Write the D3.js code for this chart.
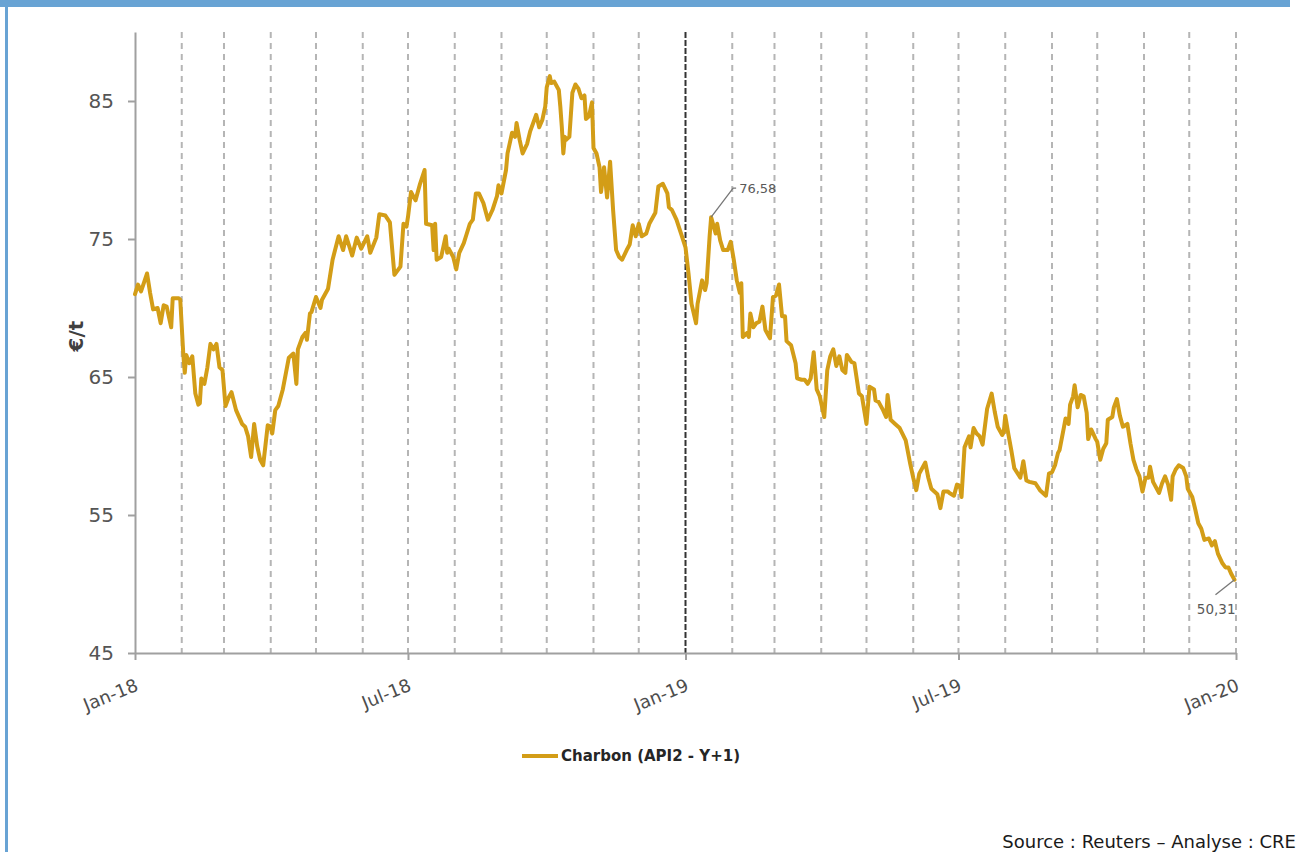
<!DOCTYPE html>
<html><head><meta charset="utf-8">
<script src="https://cdn.jsdelivr.net/npm/d3@7"></script>
<style>body{margin:0;background:#fff}svg{display:block}</style>
</head><body><svg id="c" width="1302" height="852"></svg>
<script>
// ---- DATA ----
const dates2018 = ["2018-01-01","2018-01-03","2018-01-05","2018-01-09","2018-01-11","2018-01-13","2018-01-16","2018-01-18","2018-01-20","2018-01-22","2018-01-25","2018-01-26","2018-01-30","2018-01-31",
"2018-02-02","2018-02-03","2018-02-04","2018-02-06","2018-02-08","2018-02-10","2018-02-12","2018-02-13","2018-02-14","2018-02-16","2018-02-18","2018-02-20","2018-02-22","2018-02-24","2018-02-26","2018-02-28",
"2018-03-02","2018-03-04","2018-03-06","2018-03-09","2018-03-13","2018-03-15","2018-03-17","2018-03-19","2018-03-21","2018-03-23","2018-03-25","2018-03-27","2018-03-30",
"2018-04-01","2018-04-02","2018-04-04","2018-04-06","2018-04-09","2018-04-13","2018-04-16","2018-04-18","2018-04-19","2018-04-22","2018-04-24","2018-04-25","2018-04-27","2018-04-28",
"2018-05-01","2018-05-04","2018-05-05","2018-05-09","2018-05-12","2018-05-16","2018-05-19","2018-05-21","2018-05-25","2018-05-28","2018-05-31",
"2018-06-04","2018-06-06","2018-06-10","2018-06-12","2018-06-16","2018-06-19","2018-06-22","2018-06-26","2018-06-28","2018-06-30",
"2018-07-01","2018-07-03","2018-07-06","2018-07-09","2018-07-12","2018-07-13","2018-07-17","2018-07-18","2018-07-19","2018-07-20","2018-07-23","2018-07-26","2018-07-27","2018-07-28","2018-07-31",
"2018-08-02","2018-08-04","2018-08-07","2018-08-09","2018-08-11","2018-08-13","2018-08-15","2018-08-17","2018-08-20","2018-08-23","2018-08-26","2018-08-29","2018-08-30",
"2018-09-01","2018-09-04","2018-09-05","2018-09-08","2018-09-10","2018-09-11","2018-09-13","2018-09-15","2018-09-18","2018-09-20","2018-09-24","2018-09-26","2018-09-28","2018-09-30",
"2018-10-01","2018-10-03","2018-10-04","2018-10-06","2018-10-09","2018-10-10","2018-10-11","2018-10-12","2018-10-13","2018-10-14","2018-10-16","2018-10-18","2018-10-20","2018-10-22","2018-10-24","2018-10-26","2018-10-27","2018-10-29","2018-10-31",
"2018-11-01","2018-11-03","2018-11-05","2018-11-06","2018-11-08","2018-11-10","2018-11-12","2018-11-14","2018-11-16","2018-11-18","2018-11-20","2018-11-23","2018-11-25","2018-11-27","2018-11-29",
"2018-12-01","2018-12-03","2018-12-06","2018-12-08","2018-12-12","2018-12-14","2018-12-17","2018-12-20","2018-12-21","2018-12-23","2018-12-26","2018-12-29"];
const values2018 = [71.0,71.7,71.2,72.5,71.1,69.9,70.0,68.9,70.2,70.1,68.6,70.7,70.7,70.6,
66.7,65.3,66.6,66.0,66.5,63.8,63.0,63.1,64.9,64.5,65.7,67.4,67.0,67.4,65.7,65.5,
62.9,63.5,63.9,62.6,61.6,61.4,60.7,59.2,61.6,60.0,59.0,58.6,61.5,
61.4,60.9,62.6,62.9,64.1,66.4,66.7,64.5,67.0,67.9,68.2,67.7,69.6,69.7,
70.8,70.0,70.6,71.4,73.5,75.2,74.2,75.2,73.8,75.1,74.3,
75.2,74.0,75.1,76.8,76.7,76.2,72.4,73.0,76.1,75.9,
76.6,78.4,77.8,79.0,80.0,76.1,76.0,74.2,76.1,73.5,73.7,75.2,74.0,74.3,73.7,
72.8,74.0,74.7,75.4,76.1,76.4,78.3,78.3,77.6,76.4,77.1,78.1,78.9,
78.3,80.0,81.2,82.7,82.4,83.4,82.2,81.2,81.9,82.8,84.0,83.1,83.6,84.6,
86.0,86.8,86.3,86.4,85.8,84.6,83.1,81.2,82.4,82.2,82.4,85.6,86.2,85.9,85.2,85.4,83.7,83.9,84.9,
81.6,81.2,80.2,78.4,80.2,78.0,80.6,77.1,74.2,73.7,73.5,74.2,74.6,76.0,75.2,
76.1,75.2,75.4,76.1,76.9,78.8,79.0,78.3,77.3,77.1,76.4,75.4];
const dates2019 = ["2019-01-01","2019-01-03","2019-01-05","2019-01-08","2019-01-09","2019-01-12","2019-01-14","2019-01-15","2019-01-17","2019-01-18","2019-01-21","2019-01-22","2019-01-24","2019-01-26","2019-01-29","2019-01-31",
"2019-02-02","2019-02-04","2019-02-06","2019-02-07","2019-02-08","2019-02-11","2019-02-12","2019-02-13","2019-02-15","2019-02-17","2019-02-19","2019-02-21","2019-02-23","2019-02-26","2019-02-28",
"2019-03-02","2019-03-04","2019-03-06","2019-03-08","2019-03-09","2019-03-12","2019-03-15","2019-03-16","2019-03-19","2019-03-21","2019-03-23","2019-03-25","2019-03-27","2019-03-29","2019-03-31",
"2019-04-03","2019-04-05","2019-04-07","2019-04-09","2019-04-11","2019-04-13","2019-04-15","2019-04-17","2019-04-18","2019-04-21","2019-04-23","2019-04-26","2019-04-28",
"2019-05-01","2019-05-03","2019-05-06","2019-05-07","2019-05-09","2019-05-12","2019-05-14","2019-05-15","2019-05-17","2019-05-20","2019-05-23","2019-05-27","2019-05-30",
"2019-06-01","2019-06-03","2019-06-05","2019-06-09","2019-06-11","2019-06-13","2019-06-17","2019-06-19","2019-06-21","2019-06-24","2019-06-25","2019-06-28","2019-06-30",
"2019-07-02","2019-07-03","2019-07-05","2019-07-08","2019-07-09","2019-07-11","2019-07-13","2019-07-15","2019-07-17","2019-07-20","2019-07-23","2019-07-25","2019-07-27","2019-07-30","2019-07-31",
"2019-08-01","2019-08-03","2019-08-05","2019-08-07","2019-08-11","2019-08-13","2019-08-15","2019-08-17","2019-08-21","2019-08-24","2019-08-28","2019-08-30",
"2019-09-01","2019-09-03","2019-09-05","2019-09-06","2019-09-09","2019-09-10","2019-09-12","2019-09-13","2019-09-15","2019-09-16","2019-09-18","2019-09-20","2019-09-22","2019-09-24","2019-09-25","2019-09-27","2019-09-30",
"2019-10-01","2019-10-03","2019-10-05","2019-10-07","2019-10-08","2019-10-11","2019-10-12","2019-10-14","2019-10-16","2019-10-18","2019-10-21","2019-10-23","2019-10-25","2019-10-27","2019-10-29","2019-10-31",
"2019-11-02","2019-11-04","2019-11-05","2019-11-07","2019-11-11","2019-11-13","2019-11-15","2019-11-17","2019-11-19","2019-11-20","2019-11-22","2019-11-24","2019-11-27","2019-11-29","2019-11-30",
"2019-12-03","2019-12-05","2019-12-07","2019-12-09","2019-12-11","2019-12-14","2019-12-16","2019-12-18","2019-12-20","2019-12-23","2019-12-25","2019-12-27","2019-12-29","2019-12-31"];
const values2019 = [74.4,72.5,70.3,68.9,70.3,72.0,71.3,71.8,75.2,76.58,75.4,76.1,74.9,74.2,74.2,74.8,
73.5,72.0,71.1,71.8,67.9,68.2,67.9,69.6,68.6,68.9,69.0,70.1,68.4,67.8,70.8,
70.9,71.7,69.4,69.4,67.6,67.3,66.0,64.9,64.8,64.8,64.5,64.9,66.8,64.1,63.6,
62.1,65.5,66.5,67.0,65.8,66.5,65.5,65.3,66.6,66.1,66.0,63.8,63.6,
61.6,64.3,64.1,63.3,63.2,62.6,62.1,63.7,61.9,61.6,61.3,60.4,58.7,
57.7,56.8,58.0,58.8,57.7,56.9,56.5,55.5,56.7,56.7,56.6,56.4,57.2,
57.1,56.3,59.9,60.7,59.9,61.3,60.9,60.7,60.1,62.7,63.8,62.5,61.4,60.8,61.0,
62.2,60.9,59.7,58.4,57.7,58.9,57.5,57.4,57.3,56.8,56.4,58.0,
58.1,58.6,59.5,59.7,61.4,62.0,61.6,63.0,63.6,64.4,62.8,63.7,63.6,62.4,60.5,61.2,60.5,
60.3,59.0,59.8,60.2,61.9,62.1,62.8,63.4,62.2,61.4,61.6,60.2,59.0,58.3,57.8,56.7,
57.7,57.7,58.5,57.4,56.6,57.3,57.8,57.2,56.1,57.8,58.3,58.6,58.4,57.8,56.9,
56.3,55.4,54.4,54.0,53.2,53.3,52.8,53.1,52.2,51.5,51.2,51.2,50.7,50.31];
const seriesName = "Charbon (API2 - Y+1)";
const yTicks = [45, 55, 65, 75, 85];
const yDomain = [45, 90];
const xDomain = ["2018-01-01", "2020-01-01"];
const xTickDates = ["2018-01-01", "2018-07-01", "2019-01-01", "2019-07-01", "2020-01-01"];
const xTickLabels = ["Jan-18", "Jul-18", "Jan-19", "Jul-19", "Jan-20"];
const highlightDate = "2019-01-01";
const annotDates = ["2019-01-18", "2019-12-31"];
const annotLabels = ["76,58", "50,31"];
const yTitle = "€/t";
const sourceText = "Source : Reuters – Analyse : CRE";

// ---- DRAW ----
const parse = d3.timeParse("%Y-%m-%d");
const dates = dates2018.concat(dates2019);
const values = values2018.concat(values2019);
const data = dates.map((d, i) => ({date: parse(d), value: values[i]}));
const svg = d3.select("#c");
const FONT = "DejaVu Sans, sans-serif";
const GOLD = "#d39d17";

// frame
svg.append("rect").attr("x", 0).attr("y", 0).attr("width", 1290).attr("height", 7).attr("fill", "#68a3d4");
svg.append("rect").attr("x", 5).attr("y", 0).attr("width", 3).attr("height", 852).attr("fill", "#68a3d4");

const x = d3.scaleTime().domain(xDomain.map(parse)).range([135, 1236]);
const y = d3.scaleLinear().domain(yDomain).range([653, 32]);

// monthly gridlines
const months = d3.timeMonth.range(d3.timeMonth.offset(parse(xDomain[0]), 1), d3.timeDay.offset(parse(xDomain[1]), 1));
const hl = +parse(highlightDate);
svg.append("g").selectAll("line").data(months).join("line")
  .attr("x1", d => x(d)).attr("x2", d => x(d))
  .attr("y1", y(yDomain[1])).attr("y2", y(yDomain[0]))
  .attr("stroke", d => +d === hl ? "#333" : "#b5b5b5")
  .attr("stroke-width", 2)
  .attr("stroke-dasharray", d => +d === hl ? "6,2" : "6,5");

// y axis
const yAxis = svg.append("g").attr("transform", "translate(135,0)")
  .call(d3.axisLeft(y).tickValues(yTicks).tickSize(7).tickSizeOuter(0).tickPadding(14).tickFormat(d3.format("d")));
yAxis.select(".domain").attr("stroke", "#a0a0a0").attr("stroke-width", 2);
yAxis.selectAll(".tick line").attr("stroke", "#a0a0a0").attr("stroke-width", 2);
yAxis.selectAll(".tick text").attr("font-family", FONT).attr("font-size", 20).attr("fill", "#555");

// x axis
const xAxis = svg.append("g").attr("transform", "translate(0,653)")
  .call(d3.axisBottom(x).tickValues(xTickDates.map(parse)).tickSize(7).tickSizeOuter(0)
    .tickFormat((d, i) => xTickLabels[i]));
xAxis.select(".domain").attr("stroke", "#a0a0a0").attr("stroke-width", 2);
xAxis.selectAll(".tick line").attr("stroke", "#a0a0a0").attr("stroke-width", 2);
xAxis.selectAll(".tick text").attr("font-family", FONT).attr("font-size", 18).attr("fill", "#4d4d4d")
  .attr("text-anchor", "end").attr("x", 0).attr("y", 0).attr("dy", 0)
  .attr("transform", "translate(4,37) rotate(-22)");

// y title
svg.append("text").attr("transform", "translate(83,336) rotate(-90)")
  .attr("text-anchor", "middle").attr("font-family", FONT).attr("font-weight", "bold")
  .attr("font-size", 20).attr("fill", "#404040").text(yTitle);

// series line
svg.append("path").datum(data)
  .attr("fill", "none").attr("stroke", GOLD).attr("stroke-width", 4)
  .attr("stroke-linejoin", "round").attr("stroke-linecap", "round")
  .attr("d", d3.line().x(d => x(d.date)).y(d => y(d.value)));

// annotations
const annots = annotDates.map((d, i) => {
  const dt = parse(d);
  const pt = data.find(p => +p.date === +dt);
  return {date: dt, value: pt.value, label: annotLabels[i]};
});
const a0 = annots[0], a1 = annots[1];
const ax0 = x(a0.date), ay0 = y(a0.value);
svg.append("polyline").attr("points", `${ax0},${ay0} ${ax0 + 22},${ay0 - 29} ${ax0 + 25},${ay0 - 29}`)
  .attr("fill", "none").attr("stroke", "#777").attr("stroke-width", 1.3);
svg.append("text").attr("x", ax0 + 28).attr("y", ay0 - 24).attr("font-family", FONT).attr("font-size", 13)
  .attr("fill", "#595959").text(a0.label);
const ax1 = x(a1.date), ay1 = y(a1.value);
svg.append("line").attr("x1", ax1).attr("y1", ay1).attr("x2", ax1 - 19).attr("y2", ay1 + 15)
  .attr("stroke", "#777").attr("stroke-width", 1.3);
svg.append("text").attr("x", ax1 + 1).attr("y", ay1 + 34).attr("text-anchor", "end").attr("font-family", FONT)
  .attr("font-size", 13.5).attr("fill", "#595959").text(a1.label);

// legend
svg.append("line").attr("x1", 522).attr("x2", 558).attr("y1", 756).attr("y2", 756)
  .attr("stroke", GOLD).attr("stroke-width", 4);
svg.append("text").attr("x", 561).attr("y", 761).attr("font-family", FONT).attr("font-weight", "bold")
  .attr("font-size", 15).attr("fill", "#262626").text(seriesName);

// source
svg.append("text").attr("x", 1296).attr("y", 848).attr("text-anchor", "end").attr("font-family", FONT)
  .attr("font-size", 18).attr("fill", "#1a1a1a").text(sourceText);
</script>
</body></html>
